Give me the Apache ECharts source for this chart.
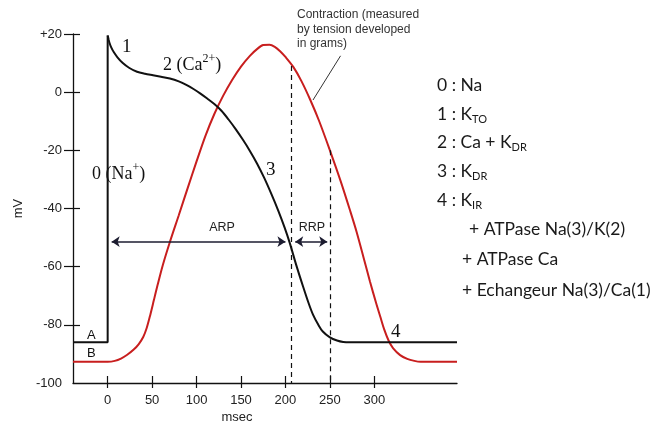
<!DOCTYPE html>
<html>
<head>
<meta charset="utf-8">
<script src="https://cdn.jsdelivr.net/npm/echarts@6/dist/echarts.min.js"></script>
<style>
  html, body { margin: 0; padding: 0; background: #fff; }
  #main { width: 661px; height: 426px; }
</style>
</head>
<body>
<div id="main"></div>
<script>
// x ticks (msec) and y tick marks (mV)
const xTickValues = [0, 50, 100, 150, 200, 250, 300];
const yTickValues = [-80, -60, -40, -20, 0, 20];

// action potential (curve A): resting level, upstroke, then phases 1-4
const apStep = [[-39, -86], [0, -86], [0, 19.5]];
const apCurve = [
  [0, 19.5], [1, 18.2], [2, 17], [4, 15.4], [7, 13.7], [11, 12], [17, 10], [24, 8.4],
  [33, 7], [42, 6.3], [51, 5.8], [60, 5.3], [70, 4.7], [80, 3.7], [89, 2.4], [97, 1],
  [104, -0.4], [112, -2.2], [120, -4.1], [128, -6.4], [136, -9.4], [144, -12.7],
  [152, -16.3], [160, -20.2], [168, -24.5], [176, -29.4], [184, -34.9], [192, -40.8],
  [199, -46.5], [205, -52], [212, -59.3], [220, -67], [226, -72.5], [231, -76.5],
  [237, -80], [242, -82.3], [250, -84.3], [258, -85.4], [265, -85.9], [273, -86], [393, -86]
];

// contraction (curve B)
const contraction = [
  [-39, -92.7], [0, -92.7], [8, -92.4], [15, -91.6], [22, -90.3], [29, -88.6], [35, -86.6],
  [40, -84.2], [44, -81], [48, -76.5], [52, -71.5], [56, -66.5], [62, -59.5], [70, -51.5],
  [80, -42.3], [90, -33], [100, -23.8], [110, -15], [120, -7.5], [130, -1.2], [140, 4.2],
  [150, 8.8], [160, 12.5], [168, 14.8], [175, 16.2], [182, 16.3], [188, 15.6], [194, 14.1],
  [200, 12.1], [209, 8.6], [218, 3.8], [228, -2.7], [238, -10], [250, -20], [262, -30.5],
  [273, -41], [280, -48], [288, -57], [295, -65], [302, -72.5], [307, -77.5], [311, -81.5],
  [316, -85.4], [321, -88], [329, -90.4], [337, -91.7], [345, -92.4], [352, -92.7], [393, -92.7]
];

// refractory periods (msec) and the level of their arrows (mV)
const arpRange = [4.5, 200];
const rrpRange = [211, 247];
const arrowLevel = -51.4;
// dashed markers: [msec, mV where the dash starts]
const dashMarks = [[207, 9], [250, -20]];
// leader from the "Contraction" note to curve B
const leader = [[231, -2.7], [262, 12.5]];

const sans = "Liberation Sans";
const serif = "Liberation Serif";
const side = "Lato";

var myChart = echarts.init(document.getElementById("main"));

function sideLine(x, y, text, rich) {
  return {
    type: "text",
    x: x,
    y: y,
    style: {
      text: text,
      fill: "#1a1a1a",
      fontFamily: side,
      fontSize: 17.5,
      lineHeight: 22,
      verticalAlign: "middle",
      rich: rich || {}
    }
  };
}

const subStyle = {
  sub: { fontFamily: side, fontSize: 11, lineHeight: 12, verticalAlign: "bottom", fill: "#1a1a1a" }
};
const supStyle = {
  sup: { fontFamily: serif, fontSize: 12, lineHeight: 8, verticalAlign: "top", fill: "#111" }
};

function label(x, y, text, font, size, extra) {
  return {
    type: "text",
    x: x,
    y: y,
    style: Object.assign({
      text: text,
      fill: "#111",
      fontFamily: font,
      fontSize: size,
      verticalAlign: "middle"
    }, extra || {})
  };
}

var option = {
  animation: false,
  grid: { left: 73, right: 204, top: 34, bottom: 43 },
  xAxis: [
    {
      type: "value",
      min: -39,
      max: 393,
      axisLine: { onZero: false, lineStyle: { color: "#111", width: 1.3 } },
      axisTick: { customValues: xTickValues, length: 5, lineStyle: { color: "#111", width: 1.2 } },
      axisLabel: { customValues: xTickValues, fontSize: 13, color: "#222", margin: 11, fontFamily: sans },
      splitLine: { show: false }
    },
    {
      type: "value",
      min: -39,
      max: 393,
      position: "bottom",
      axisLine: { show: false, onZero: false },
      axisTick: { inside: true, customValues: xTickValues, length: 7, lineStyle: { color: "#111", width: 1.2 } },
      axisLabel: { show: false },
      splitLine: { show: false }
    }
  ],
  yAxis: [
    {
      type: "value",
      min: -100,
      max: 20,
      interval: 20,
      name: "mV",
      nameLocation: "middle",
      nameGap: 44,
      nameTextStyle: { fontSize: 13, color: "#222", fontFamily: sans },
      axisLine: { onZero: false, lineStyle: { color: "#111", width: 1.3 } },
      axisTick: { customValues: yTickValues, length: 9, lineStyle: { color: "#111", width: 1.2 } },
      axisLabel: {
        fontSize: 13,
        color: "#222",
        margin: 11,
        fontFamily: sans,
        formatter: function (v) { return v > 0 ? "+" + v : "" + v; }
      },
      splitLine: { show: false }
    },
    {
      type: "value",
      min: -100,
      max: 20,
      interval: 20,
      position: "left",
      axisLine: { show: false, onZero: false },
      axisTick: { inside: true, customValues: yTickValues, length: 7, lineStyle: { color: "#111", width: 1.2 } },
      axisLabel: { show: false },
      splitLine: { show: false }
    }
  ],
  series: [
    {
      name: "contraction",
      type: "line",
      data: contraction,
      smooth: 0.3,
      symbol: "none",
      lineStyle: { color: "#c81e1e", width: 2 },
      markLine: {
        silent: true,
        symbol: ["none", "none"],
        label: { show: false },
        lineStyle: { color: "#111", width: 1.2, type: [5, 4] },
        data: dashMarks.map(function (d) {
          return [{ coord: [d[0], d[1]] }, { coord: [d[0], -100] }];
        })
      }
    },
    {
      name: "upstroke",
      type: "line",
      data: apStep,
      symbol: "none",
      lineStyle: { color: "#111", width: 2 }
    },
    {
      name: "potential",
      type: "line",
      data: apCurve,
      smooth: 0.3,
      symbol: "none",
      lineStyle: { color: "#111", width: 2 },
      markLine: {
        silent: true,
        symbol: ["arrow", "arrow"],
        symbolSize: 8,
        label: { show: false },
        lineStyle: { color: "#1c1c30", width: 1.6, type: "solid" },
        data: [
          [{ coord: [arpRange[0], arrowLevel] }, { coord: [arpRange[1], arrowLevel] }],
          [{ coord: [rrpRange[0], arrowLevel] }, { coord: [rrpRange[1], arrowLevel] }],
          [
            { coord: leader[0], symbol: "none", lineStyle: { color: "#333", width: 1 } },
            { coord: leader[1], symbol: "none" }
          ]
        ]
      }
    }
  ],
  graphic: [
    // note on curve B
    label(297, 15, "Contraction (measured", sans, 12, { fill: "#333" }),
    label(297, 30, "by tension developed", sans, 12, { fill: "#333" }),
    label(297, 44, "in grams)", sans, 12, { fill: "#333" }),
    // phase numbers
    label(122, 47, "1", serif, 19),
    label(163, 65, "2 (Ca{sup|2+})", serif, 18, { lineHeight: 24, rich: supStyle }),
    label(92, 174, "0 (Na{sup|+})", serif, 18, { lineHeight: 24, rich: supStyle }),
    label(266, 170, "3", serif, 19),
    label(391, 332, "4", serif, 19),
    // curve names
    label(87, 335, "A", sans, 13),
    label(87, 353, "B", sans, 13),
    // refractory periods
    label(222, 228, "ARP", sans, 12.5, { align: "center", fill: "#222" }),
    label(312, 228, "RRP", sans, 12.5, { align: "center", fill: "#222" }),
    // x axis name
    label(237, 417, "msec", sans, 13, { align: "center", fill: "#222" }),
    // ion currents
    sideLine(437, 85, "0 : Na"),
    sideLine(437, 114, "1 : K{sub|TO}", subStyle),
    sideLine(437, 142, "2 : Ca + K{sub|DR}", subStyle),
    sideLine(437, 171, "3 : K{sub|DR}", subStyle),
    sideLine(437, 200, "4 : K{sub|IR}", subStyle),
    sideLine(469, 229, "+ ATPase Na(3)/K(2)"),
    sideLine(462, 259, "+ ATPase Ca"),
    sideLine(462, 290, "+ Echangeur Na(3)/Ca(1)")
  ]
};

option && myChart.setOption(option);
</script>
</body>
</html>
